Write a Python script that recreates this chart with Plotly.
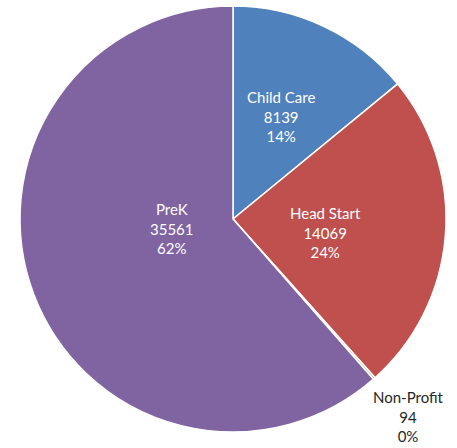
import math
import plotly.graph_objects as go

categories = ["Child Care", "Head Start", "Non-Profit", "PreK"]
values = [8139, 14069, 94, 35561]
pct_labels = ["14%", "24%", "0%", "62%"]
colors = ["#4F81BD", "#C0504D", "#9BBB59", "#8064A2"]

W, H = 457, 448
# pie placement (window pixels)
x0, x1 = 20, 446
y0, y1 = 6, 432
cx, cy = (x0 + x1) / 2, (y0 + y1) / 2
R = (x1 - x0) / 2

# label placement per slice: radius fraction, angle offset (deg), text colour
label_r = [0.53, 0.44, 1.24, 0.29]
label_da = [0, 4, 0, 12]
label_col = ["white", "white", "#262626", "white"]

fig = go.Figure(go.Pie(
    labels=categories,
    values=values,
    textinfo="none",
    marker=dict(colors=colors, line=dict(color="white", width=1.5)),
    sort=False,
    direction="clockwise",
    rotation=0,
    showlegend=False,
    hoverinfo="label+value+percent",
    domain=dict(x=[x0 / W, x1 / W], y=[(H - y1) / H, (H - y0) / H]),
))

total = sum(values)
cum = 0
for lab, v, p, rf, da, col in zip(categories, values, pct_labels, label_r, label_da, label_col):
    mid = (cum + v / 2) / total * 360 + da
    cum += v
    a = math.radians(mid)
    px = cx + rf * R * math.sin(a)
    py = cy - rf * R * math.cos(a)
    fig.add_annotation(
        x=px / W, y=1 - py / H, xref="paper", yref="paper",
        text=f"{lab}<br>{v}<br>{p}", showarrow=False,
        font=dict(family="Lato", size=15, color=col),
        align="center", xanchor="center", yanchor="middle",
    )

fig.update_layout(
    width=W, height=H,
    margin=dict(l=0, r=0, t=0, b=0),
    paper_bgcolor="white",
    plot_bgcolor="white",
    font=dict(family="Lato", size=15),
)
fig.write_html("out.html", config={"displayModeBar": False},
               post_script="document.body.style.margin='0';")
